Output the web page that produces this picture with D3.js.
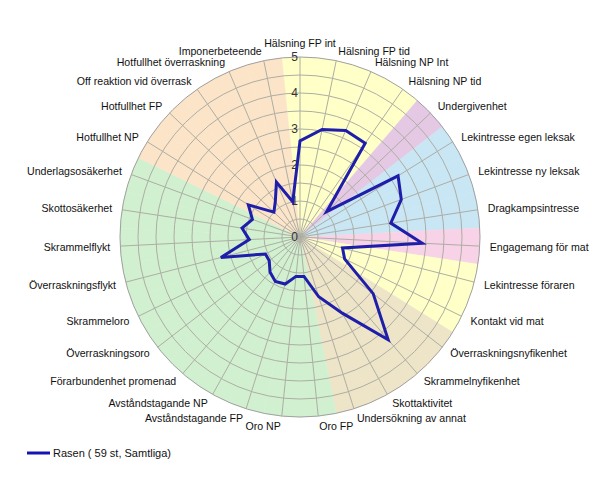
<!DOCTYPE html>
<html>
<head>
<meta charset="utf-8">
<script src="https://cdn.jsdelivr.net/npm/d3@7"></script>
<style>
  html, body { margin: 0; padding: 0; background: #fff; }
  svg { display: block; font-family: "Liberation Sans", Arial, sans-serif; }
</style>
</head>
<body>
<svg id="chart" width="600" height="480"></svg>
<script>
const categories = [
  "Hälsning FP int", "Hälsning FP tid", "Hälsning NP Int", "Hälsning NP tid",
  "Undergivenhet", "Lekintresse egen leksak", "Lekintresse ny leksak",
  "Dragkampsintresse", "Engagemang för mat", "Lekintresse föraren",
  "Kontakt vid mat", "Överraskningsnyfikenhet", "Skrammelnyfikenhet",
  "Skottaktivitet", "Undersökning av annat", "Oro FP", "Oro NP",
  "Avståndstagande FP", "Avståndstagande NP", "Förarbundenhet promenad",
  "Överraskningsoro", "Skrammeloro", "Överraskningsflykt", "Skrammelflykt",
  "Skottosäkerhet", "Underlagsosäkerhet", "Hotfullhet NP", "Hotfullhet FP",
  "Off reaktion vid överrask", "Hotfullhet överraskning", "Imponerbeteende"
];
const values = [
  2.67, 3.05, 3.22, 3.17, 1.02, 3.21, 3.0, 2.55, 3.4, 1.22,
  1.38, 2.57, 3.76, 2.42, 1.74, 1.1, 1.1, 1.37, 1.41, 1.28,
  1.08, 1.07, 2.27, 1.41, 1.63, 1.41, 1.69, 1.0, 1.2, 1.66, 1.0
];
const groups = [
  "halsning", "halsning", "halsning", "halsning",
  "undergiven", "lek", "lek", "lek", "mat", "kontakt",
  "kontakt", "nyfiken", "nyfiken", "nyfiken", "nyfiken",
  "oro", "oro", "oro", "oro", "oro", "oro", "oro", "oro", "oro", "oro", "oro",
  "hot", "hot", "hot", "hot", "hot"
];
const tickValues = [0, 1, 2, 3, 4, 5];
const seriesName = "Rasen ( 59 st, Samtliga)";

const groupColors = {
  halsning: "#FFFFC8", undergiven: "#E4C8E4", lek: "#C8E6F4", mat: "#F8D2E6",
  kontakt: "#FFFFC8", nyfiken: "#EEE4C8", oro: "#D0F0D0", hot: "#FCE4C8"
};

const svg = d3.select("#chart");
const cx = 300, cy = 237, R = 180;
const n = categories.length;
const r = d3.scaleLinear().domain([0, 5]).range([0, R]);
const a = d3.scaleLinear().domain([0, n]).range([0, 2 * Math.PI]);

const g = svg.append("g").attr("transform", `translate(${cx},${cy})`);

// sector backgrounds
const arc = d3.arc().innerRadius(0).outerRadius(R);
g.selectAll("path.sector").data(categories).join("path")
  .attr("class", "sector")
  .attr("d", (d, i) => arc({ startAngle: a(i - 0.5), endAngle: a(i + 0.5) }))
  .attr("fill", (d, i) => groupColors[groups[i]])
  .attr("stroke", (d, i) => groupColors[groups[i]])
  .attr("stroke-width", 0.5);

// rings every 0.5
const rings = d3.range(0.5, 5.01, 0.5);
g.selectAll("circle.ring").data(rings).join("circle")
  .attr("r", d => r(d))
  .attr("fill", "none")
  .attr("stroke", d => d === 5 ? "#A0A0A0" : "#AEAEA4")
  .attr("stroke-width", 1);

// spokes
g.selectAll("line.spoke").data(categories).join("line")
  .attr("x1", 0).attr("y1", 0)
  .attr("x2", (d, i) => R * Math.sin(a(i)))
  .attr("y2", (d, i) => -R * Math.cos(a(i)))
  .attr("stroke", "#AEAEA4")
  .attr("stroke-width", 1);

// tick labels
g.selectAll("text.tick").data(tickValues).join("text")
  .attr("x", -2)
  .attr("y", d => -r(d))
  .attr("text-anchor", "end")
  .attr("dominant-baseline", "central")
  .attr("font-size", 12)
  .attr("fill", "#333")
  .text(d => d);

// series polygon
const line = d3.lineRadial()
  .angle((d, i) => a(i))
  .radius(d => r(d))
  .curve(d3.curveLinearClosed);
g.append("path")
  .datum(values)
  .attr("d", line)
  .attr("fill", "none")
  .attr("stroke", "#1E1EAA")
  .attr("stroke-width", 3)
  .attr("stroke-linejoin", "miter");

// category labels
const LR = 190;
g.selectAll("text.cat").data(categories).join("text")
  .attr("x", (d, i) => LR * Math.sin(a(i)))
  .attr("y", (d, i) => -LR * Math.cos(a(i)) - (i === 0 ? 4 : 0))
  .attr("text-anchor", (d, i) => {
    const s = Math.sin(a(i));
    return Math.abs(s) < 0.01 ? "middle" : (s > 0 ? "start" : "end");
  })
  .attr("dominant-baseline", "central")
  .attr("font-size", 10.6)
  .attr("fill", "#111")
  .text(d => d);

// legend
const lg = svg.append("g").attr("transform", "translate(27,453)");
lg.append("line").attr("x1", 0).attr("x2", 23).attr("y1", 0).attr("y2", 0)
  .attr("stroke", "#1414B4").attr("stroke-width", 3);
lg.append("text").attr("x", 26).attr("y", 0)
  .attr("dominant-baseline", "central")
  .attr("font-size", 11).attr("fill", "#111")
  .text(seriesName);
</script>
</body>
</html>
